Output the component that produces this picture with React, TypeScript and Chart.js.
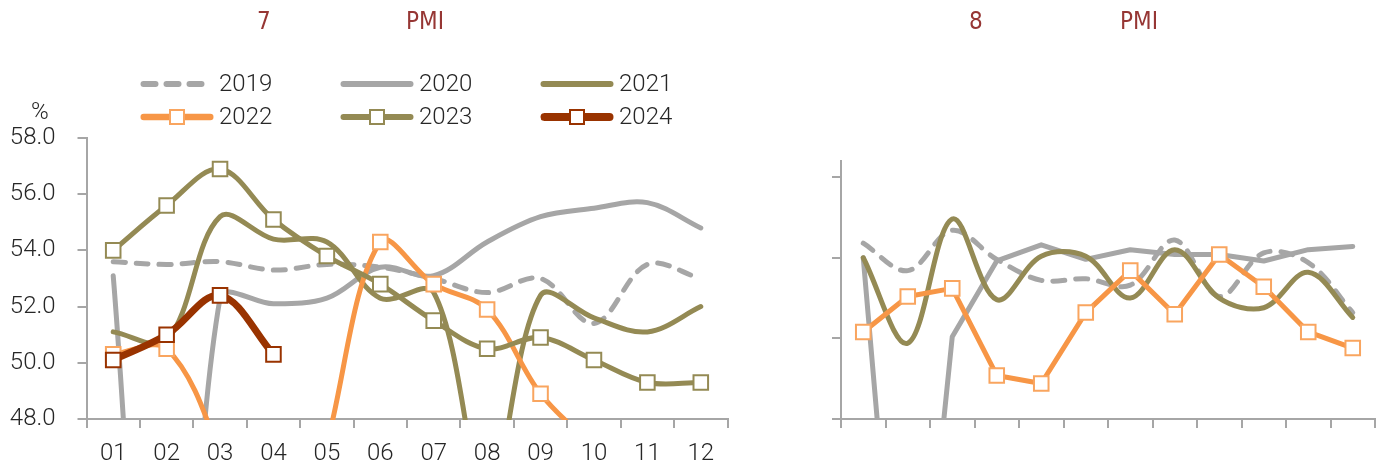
import React, { useEffect, useRef } from "react";
import { Chart, registerables } from "chart.js";

Chart.register(...registerables);

// ---------------- data ----------------
const MONTHS = ["01", "02", "03", "04", "05", "06", "07", "08", "09", "10", "11", "12"];
const LEFT_Y_TICKS = [48, 50, 52, 54, 56, 58];
const RIGHT_Y_TICKS = [50, 55, 60, 65];
const LEFT_TITLE = ["7", "PMI"];
const RIGHT_TITLE = ["8", "PMI"];
const UNIT = "%";

// left panel (services)
const SVC_2019 = [53.6, 53.5, 53.6, 53.3, 53.5, 53.4, 53.0, 52.5, 53.0, 51.4, 53.5, 53.0];
const SVC_2020 = [53.1, 30.1, 52.3, 52.1, 52.3, 53.4, 53.1, 54.3, 55.2, 55.5, 55.7, 54.8];
const SVC_2021 = [51.1, 50.8, 55.2, 54.4, 54.3, 52.3, 52.5, 45.2, 52.4, 51.6, 51.1, 52.0];
const SVC_2022 = [50.3, 50.5, 46.7, 40.0, 47.1, 54.3, 52.8, 51.9, 48.9, 47.0, 45.1, 39.4];
const SVC_2023 = [54.0, 55.6, 56.9, 55.1, 53.8, 52.8, 51.5, 50.5, 50.9, 50.1, 49.3, 49.3];
const SVC_2024 = [50.1, 51.0, 52.4, 50.3, null, null, null, null, null, null, null, null];

// right panel (construction)
const CON_2019 = [60.9, 59.2, 61.7, 59.9, 58.6, 58.7, 58.3, 61.1, 57.6, 60.3, 59.7, 56.6];
const CON_2020 = [60.0, 28.0, 55.1, 59.8, 60.8, 59.9, 60.5, 60.2, 60.2, 59.8, 60.5, 60.7];
const CON_2021 = [60.0, 54.7, 62.4, 57.4, 60.1, 60.1, 57.5, 60.5, 57.5, 56.9, 59.1, 56.3];
const CON_2022 = [55.4, 57.6, 58.1, 52.7, 52.2, 56.6, 59.2, 56.5, 60.2, 58.2, 55.4, 54.4];

// ---------------- styles ----------------
type SeriesStyle = {
  color: string;
  markerBorder: string;
  width: number;
  legendWidth: number;
  dash: boolean;
  marker: boolean;
  order: number;
};
const STYLES: Record<string, SeriesStyle> = {
  "2019": { color: "#A6A6A6", markerBorder: "#A6A6A6", width: 5, legendWidth: 6, dash: true, marker: false, order: 6 },
  "2020": { color: "#A6A6A6", markerBorder: "#A6A6A6", width: 5, legendWidth: 6, dash: false, marker: false, order: 5 },
  "2021": { color: "#948A54", markerBorder: "#948A54", width: 5, legendWidth: 6, dash: false, marker: false, order: 4 },
  "2022": { color: "#F79646", markerBorder: "#F9A55F", width: 5, legendWidth: 6.5, dash: false, marker: true, order: 3 },
  "2023": { color: "#948A54", markerBorder: "#948A54", width: 5, legendWidth: 6, dash: false, marker: true, order: 2 },
  "2024": { color: "#993300", markerBorder: "#993300", width: 7, legendWidth: 8, dash: false, marker: true, order: 1 },
};
const LEGEND_ROWS = [
  ["2019", "2020", "2021"],
  ["2022", "2023", "2024"],
];

const AXIS = "#A6A6A6";
const TEXT = "#262626";
const TITLE = "#963634";
const TICK_FONT = "Roboto, 'DejaVu Sans Condensed', sans-serif";
const TITLE_FONT = "'Liberation Sans Narrow', 'DejaVu Sans Condensed', sans-serif";
const DASH = [12, 11];

function dataset(label: string, data: (number | null)[], tension: number) {
  const s = STYLES[label];
  return {
    label,
    data,
    borderColor: s.color,
    backgroundColor: s.color,
    borderWidth: s.width,
    borderDash: s.dash ? DASH : [],
    borderCapStyle: "round",
    borderJoinStyle: "round",
    tension,
    cubicInterpolationMode: "default",
    pointStyle: "rect",
    pointRadius: s.marker ? 10.3 : 0,
    pointHoverRadius: s.marker ? 10.3 : 0,
    pointBorderWidth: 2,
    pointBackgroundColor: "#FFFFFF",
    pointBorderColor: s.markerBorder,
    order: s.order,
    fill: false,
    spanGaps: false,
    clip: { left: 30, right: 30, top: 30, bottom: 1 },
  };
}

type PanelSpec = {
  canvasW: number;
  canvasH: number;
  areaLeft: number;
  areaRight: number;
  areaTop: number;
  areaBottom: number;
  yMin: number;
  yMax: number;
  yTicks: number[];
  showLabels: boolean;
  datasets: any[];
};

function buildConfig(p: PanelSpec): any {
  const gridCommon = {
    display: true,
    drawOnChartArea: false,
    drawTicks: true,
    tickLength: 9,
    color: AXIS,
    lineWidth: 2,
  };
  return {
    type: "line",
    data: { labels: MONTHS, datasets: p.datasets },
    options: {
      responsive: false,
      animation: false,
      events: [],
      layout: {
        padding: { left: 0, right: p.canvasW - p.areaRight, top: p.areaTop, bottom: 0 },
      },
      elements: { line: { capBezierPoints: false } },
      plugins: {
        legend: { display: false },
        tooltip: { enabled: false },
        title: { display: false },
      },
      scales: {
        x: {
          type: "category",
          offset: true,
          grid: { ...gridCommon, offset: true },
          border: { display: true, color: AXIS, width: 2 },
          ticks: {
            display: p.showLabels,
            color: TEXT,
            font: { family: TICK_FONT, size: 24, weight: "300" },
            padding: 12,
            maxRotation: 0,
            autoSkip: false,
          },
          afterFit: (s: any) => {
            s.height = p.canvasH - p.areaBottom;
          },
        },
        y: {
          type: "linear",
          min: p.yMin,
          max: p.yMax,
          afterBuildTicks: (s: any) => {
            s.ticks = p.yTicks.map((v) => ({ value: v }));
          },
          grid: gridCommon,
          border: { display: true, color: AXIS, width: 2 },
          ticks: {
            display: p.showLabels,
            color: TEXT,
            font: { family: TICK_FONT, size: 24, weight: "300" },
            padding: 22,
            callback: (v: any) => Number(v).toFixed(1),
          },
          afterFit: (s: any) => {
            s.width = p.areaLeft;
          },
        },
      },
    },
  };
}

function ChartPanel({ spec, left }: { spec: PanelSpec; left: number }) {
  const ref = useRef<HTMLCanvasElement>(null);
  useEffect(() => {
    if (!ref.current) return;
    const chart = new Chart(ref.current, buildConfig(spec));
    return () => chart.destroy();
  }, []);
  return (
    <canvas
      ref={ref}
      width={spec.canvasW}
      height={spec.canvasH}
      style={{ position: "absolute", left, top: 0, width: spec.canvasW, height: spec.canvasH }}
    />
  );
}

function LegendSample({ year }: { year: string }) {
  const s = STYLES[year];
  const w = 80;
  const h = 22;
  const pad = s.legendWidth / 2 + 0.5;
  return (
    <svg width={w} height={h} style={{ position: "absolute", left: 0, top: -h / 2 }}>
      <line
        x1={pad}
        y1={h / 2}
        x2={74 - pad}
        y2={h / 2}
        stroke={s.color}
        strokeWidth={s.legendWidth}
        strokeLinecap="round"
        strokeDasharray={s.dash ? DASH.join(" ") : undefined}
      />
      {s.marker && (
        <rect
          x={37 - 7}
          y={h / 2 - 7}
          width={14}
          height={14}
          fill="#fff"
          stroke={s.markerBorder}
          strokeWidth={2}
        />
      )}
    </svg>
  );
}

function Legend() {
  const colX = [140, 340, 540];
  const rowY = [84, 117];
  return (
    <>
      {LEGEND_ROWS.map((row, ri) =>
        row.map((year, ci) => (
          <div key={year} style={{ position: "absolute", left: colX[ci], top: rowY[ri], width: 150, height: 0 }}>
            <LegendSample year={year} />
            <span
              style={{
                position: "absolute",
                left: 79,
                top: -13,
                fontFamily: TICK_FONT,
                fontWeight: 300,
                fontSize: 24,
                lineHeight: "24px",
                color: TEXT,
                whiteSpace: "nowrap",
              }}
            >
              {year}
            </span>
          </div>
        ))
      )}
    </>
  );
}

function TitlePart({ text, left }: { text: string; left: number }) {
  return (
    <span
      style={{
        position: "absolute",
        left,
        top: 9,
        fontFamily: TITLE_FONT,
        fontSize: 24,
        lineHeight: "24px",
        color: TITLE,
        whiteSpace: "nowrap",
      }}
    >
      {text}
    </span>
  );
}

export default function App() {
  const leftSpec: PanelSpec = {
    canvasW: 760,
    canvasH: 472,
    areaLeft: 86.5,
    areaRight: 727.5,
    areaTop: 138,
    areaBottom: 419,
    yMin: 48,
    yMax: 58,
    yTicks: LEFT_Y_TICKS,
    showLabels: true,
    datasets: [
      dataset("2019", SVC_2019, 0.35),
      dataset("2020", SVC_2020, 0.35),
      dataset("2021", SVC_2021, 0.35),
      dataset("2022", SVC_2022, 0.35),
      dataset("2023", SVC_2023, 0.35),
      dataset("2024", SVC_2024, 0.35),
    ],
  };
  const rightLeft = 760;
  const rightSpec: PanelSpec = {
    canvasW: 628,
    canvasH: 472,
    areaLeft: 841 - rightLeft,
    areaRight: 1375 - rightLeft,
    areaTop: 161,
    areaBottom: 419,
    yMin: 50,
    yMax: 66,
    yTicks: RIGHT_Y_TICKS,
    showLabels: false,
    datasets: [
      dataset("2019", CON_2019, 0.35),
      dataset("2020", CON_2020, 0),
      dataset("2021", CON_2021, 0.35),
      dataset("2022", CON_2022, 0),
    ],
  };
  return (
    <div
      style={{
        position: "absolute",
        left: 0,
        top: 0,
        width: 1388,
        height: 472,
        background: "#FFFFFF",
        overflow: "hidden",
      }}
    >
      <ChartPanel spec={leftSpec} left={0} />
      <ChartPanel spec={rightSpec} left={rightLeft} />
      <TitlePart text={LEFT_TITLE[0]} left={257} />
      <TitlePart text={LEFT_TITLE[1]} left={406} />
      <TitlePart text={RIGHT_TITLE[0]} left={969} />
      <TitlePart text={RIGHT_TITLE[1]} left={1120} />
      <Legend />
      <span
        style={{
          position: "absolute",
          left: 31,
          top: 99,
          fontFamily: TICK_FONT,
          fontWeight: 300,
          fontSize: 24,
          lineHeight: "24px",
          color: TEXT,
        }}
      >
        {UNIT}
      </span>
    </div>
  );
}
